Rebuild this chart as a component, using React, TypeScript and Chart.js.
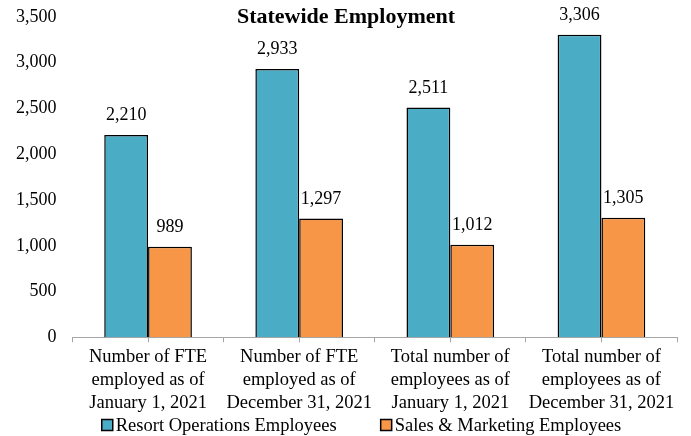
import React, { useEffect, useRef } from "react";
import { Chart, registerables } from "chart.js";

Chart.register(...registerables);

const categories: string[][] = [
  ["Number of FTE", "employed as of", "January 1, 2021"],
  ["Number of FTE", "employed as of", "December 31, 2021"],
  ["Total number of", "employees as of", "January 1, 2021"],
  ["Total number of", "employees as of", "December 31, 2021"],
];
const resortOps: number[] = [2210, 2933, 2511, 3306];
const salesMarketing: number[] = [989, 1297, 1012, 1305];
const yTicks: number[] = [0, 500, 1000, 1500, 2000, 2500, 3000, 3500];

const FONT = "'Liberation Serif', 'Times New Roman', serif";

const labelPlugin = {
  id: "valueLabels",
  afterDatasetsDraw(chart: any) {
    const ctx = chart.ctx;
    ctx.save();
    ctx.font = `18px ${FONT}`;
    ctx.fillStyle = "#000";
    ctx.textAlign = "center";
    ctx.textBaseline = "alphabetic";
    chart.data.datasets.forEach((ds: any, i: number) => {
      const meta = chart.getDatasetMeta(i);
      meta.data.forEach((bar: any, j: number) => {
        const v = ds.data[j] as number;
        ctx.fillText(v.toLocaleString("en-US"), bar.x, bar.y - 15);
      });
    });
    ctx.restore();
  },
};

const extrasPlugin = {
  id: "extras",
  afterDraw(chart: any) {
    const ctx = chart.ctx;
    const xs = chart.scales.x;
    const area = chart.chartArea;
    ctx.save();
    // center ticks
    ctx.strokeStyle = "#a6a6a6";
    ctx.lineWidth = 1;
    categories.forEach((_, i) => {
      const px = Math.round(xs.getPixelForValue(i)) + 0.5;
      ctx.beginPath();
      ctx.moveTo(px, area.bottom);
      ctx.lineTo(px, area.bottom + 5);
      ctx.stroke();
    });
    // title
    ctx.font = `bold 22px ${FONT}`;
    ctx.fillStyle = "#000";
    ctx.textAlign = "center";
    ctx.textBaseline = "middle";
    ctx.fillText("Statewide Employment", 346, 17);
    // legend
    ctx.font = `18.5px ${FONT}`;
    ctx.textAlign = "left";
    const box = 11;
    const gap = 3;
    const itemGap = 44;
    const items = chart.data.datasets.map((ds: any) => ({
      label: ds.label as string,
      color: ds.backgroundColor as string,
      w: box + gap + ctx.measureText(ds.label).width,
    }));
    const total = items.reduce((s: number, it: any) => s + it.w, 0) + itemGap * (items.length - 1);
    let x = chart.width / 2 + 16 - total / 2;
    const cy = chart.height - 11;
    items.forEach((it: any) => {
      ctx.fillStyle = it.color;
      ctx.fillRect(x, cy - box / 2, box, box);
      ctx.strokeStyle = "#000";
      ctx.lineWidth = 1.5;
      ctx.strokeRect(x, cy - box / 2, box, box);
      ctx.fillStyle = "#000";
      ctx.fillText(it.label, x + box + gap, cy + 1);
      x += it.w + itemGap;
    });
    ctx.restore();
  },
};

export default function App() {
  const ref = useRef<HTMLCanvasElement>(null);
  useEffect(() => {
    if (!ref.current) return;
    const chart = new Chart(ref.current, {
      type: "bar",
      data: {
        labels: categories,
        datasets: [
          {
            label: "Resort Operations Employees",
            data: resortOps,
            backgroundColor: "#4BACC6",
            borderColor: "#000000",
            borderWidth: 1.5,
          },
          {
            label: "Sales & Marketing Employees",
            data: salesMarketing,
            backgroundColor: "#F79646",
            borderColor: "#000000",
            borderWidth: 1.5,
          },
        ],
      },
      options: {
        animation: false,
        responsive: false,
        maintainAspectRatio: false,
        layout: { padding: { top: 17, right: 14, left: 0, bottom: 18 } },
        datasets: {
          bar: { categoryPercentage: 0.58, barPercentage: 1 },
        },
        plugins: {
          title: { display: false },
          tooltip: { enabled: false },
          legend: { display: false },
        },
        scales: {
          x: {
            grid: {
              display: true,
              drawOnChartArea: false,
              drawTicks: true,
              tickLength: 5,
              offset: true,
              color: "#a6a6a6",
            },
            border: { display: true, color: "#a6a6a6" },
            ticks: {
              font: { family: FONT, size: 18.5, lineHeight: 1.22 },
              color: "#000",
              maxRotation: 0,
              autoSkip: false,
              padding: 4,
            },
          },
          y: {
            min: 0,
            max: 3500,
            afterBuildTicks(scale: any) {
              scale.ticks = yTicks.map((v) => ({ value: v }));
            },
            afterFit(scale: any) {
              scale.paddingTop = 0;
              scale.paddingBottom = 0;
            },
            grid: { display: false, drawTicks: false },
            border: { display: false },
            ticks: {
              font: { family: FONT, size: 18 },
              color: "#000",
              padding: 16,
              callback: (v: any) => Number(v).toLocaleString("en-US"),
            },
          },
        },
      },
      plugins: [labelPlugin, extrasPlugin],
    });
    return () => chart.destroy();
  }, []);
  return (
    <div style={{ position: "fixed", left: 0, top: 0, width: 691, height: 436, background: "#fff" }}>
      <canvas ref={ref} width={691} height={436} style={{ width: 691, height: 436 }} />
    </div>
  );
}
